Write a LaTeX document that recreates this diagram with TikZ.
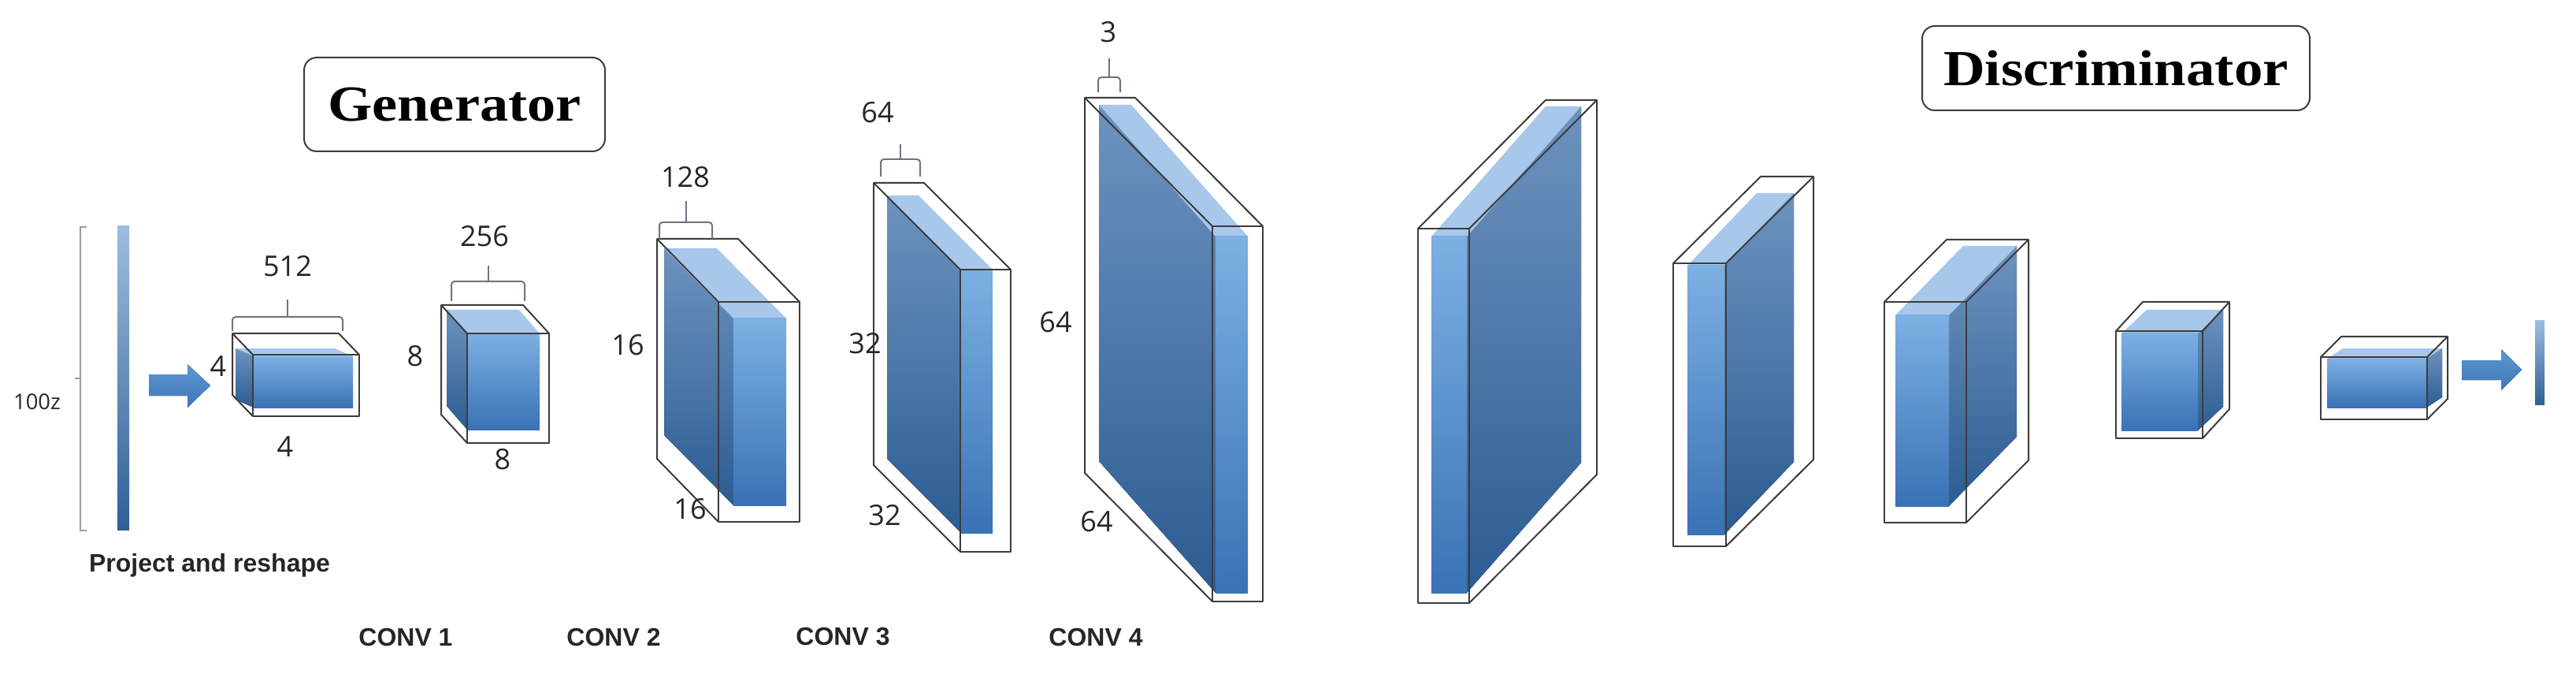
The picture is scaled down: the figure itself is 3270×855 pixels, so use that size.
\documentclass[tikz,border=0pt]{standalone}
\usepackage{fontspec}
\setmainfont{Liberation Sans}
\newfontfamily\titlefont{Liberation Serif}
\newfontfamily\numfont{Open Sans}
\definecolor{framecol}{HTML}{3C3C3C}
\definecolor{brkcol}{HTML}{6E7582}
\definecolor{txtcol}{HTML}{262626}
\definecolor{sideT}{HTML}{6D93BF}
\definecolor{sideB}{HTML}{2C5C92}
\definecolor{frontT}{HTML}{7DB0E3}
\definecolor{frontB}{HTML}{3972B5}
\definecolor{topcol}{HTML}{A7C7EB}
\definecolor{arrT}{HTML}{5E96D3}
\definecolor{arrB}{HTML}{3E77B8}
\definecolor{barT}{HTML}{9DBDE0}
\definecolor{barB}{HTML}{2F5F96}
\tikzset{
  frame/.style={draw=framecol, line width=1pt, line join=round},
  brk/.style={draw=brkcol, line width=1pt, rounded corners=2pt},
  sidefill/.style={top color=sideT, bottom color=sideB},
  frontfill/.style={top color=frontT, bottom color=frontB},
  topfill/.style={fill=topcol},
  num/.style={font=\numfont\fontsize{18pt}{20pt}\selectfont, text=txtcol, inner sep=0pt},
  convlbl/.style={font=\bfseries\fontsize{16pt}{18pt}\selectfont, text=txtcol, inner sep=0pt},
  titlebox/.style={draw=framecol, line width=1pt, rounded corners=8pt, inner sep=0pt,
    font=\titlefont\bfseries\fontsize{32pt}{34pt}\selectfont},
  blockarrow/.style={top color=arrT, bottom color=arrB},
}
% generator cube: side face on the left
\newcommand\gcube[6]{%
  \fill[sidefill] (#1,#2) -- ({#1+(#5)},{#2+(#6)}) -- ({#1+(#5)},{#4+(#6)}) -- (#1,#4) -- cycle;
  \fill[topfill] (#1,#2) -- ({#1+(#5)},{#2+(#6)}) -- ({#3+(#5)},{#2+(#6)}) -- (#3,#2) -- cycle;
  \fill[frontfill] (#1,#2) rectangle (#3,#4);
}
% discriminator cube: side face on the right
\newcommand\dcube[6]{%
  \fill[sidefill] (#3,#2) -- ({#3+(#5)},{#2+(#6)}) -- ({#3+(#5)},{#4+(#6)}) -- (#3,#4) -- cycle;
  \fill[topfill] (#1,#2) -- ({#1+(#5)},{#2+(#6)}) -- ({#3+(#5)},{#2+(#6)}) -- (#3,#2) -- cycle;
  \fill[frontfill] (#1,#2) rectangle (#3,#4);
}
\newcommand\gframe[6]{%
  \draw[frame] (#1,#2) rectangle (#3,#4);
  \draw[frame] (#1,#4) -- ({#1+(#5)},{#4+(#6)}) -- ({#1+(#5)},{#2+(#6)}) -- ({#3+(#5)},{#2+(#6)}) -- (#3,#2);
  \draw[frame] (#1,#2) -- ({#1+(#5)},{#2+(#6)});
}
\newcommand\dframe[6]{%
  \draw[frame] (#1,#2) rectangle (#3,#4);
  \draw[frame] (#3,#4) -- ({#3+(#5)},{#4+(#6)}) -- ({#3+(#5)},{#2+(#6)}) -- ({#1+(#5)},{#2+(#6)}) -- (#1,#2);
  \draw[frame] (#3,#2) -- ({#3+(#5)},{#2+(#6)});
}
\newcommand\chbrack[5]{%
  \draw[brk] (#1,#4) -- (#1,#3) -- (#2,#3) -- (#2,#4);
  \draw[brk] ({(#1+#2)/2},#3) -- ({(#1+#2)/2},#5);
}
\begin{document}
\begin{tikzpicture}[x=0.5pt,y=-0.5pt]
\useasboundingbox (0,0) rectangle (3270,855);
\fill[white] (0,0) rectangle (3270,855);

% titles
\node[titlebox, minimum width=191pt, minimum height=59.5pt] (gen) at (577,132.5) {\scalebox{1.13}[1]{Generator}};
\node[titlebox, minimum width=246pt, minimum height=53.5pt] (dis) at (2686,86.5) {\scalebox{1.14}[1]{Discriminator}};

% latent vector
\draw[draw=brkcol!70, line width=1pt] (110,288) -- (102,288) -- (102,673) -- (110,673);
\draw[draw=brkcol!70, line width=1pt] (102,480) -- (95,480);
\node[font=\numfont\fontsize{13.7pt}{15pt}\selectfont, text=txtcol, inner sep=0pt] (z) at (47,510) {100z};
\fill[top color=barT, bottom color=barB] (149,287) rectangle (164,672);
\node[font=\bfseries\fontsize{16pt}{18pt}\selectfont, text=txtcol, inner sep=0pt] (proj) at (266,717) {Project and reshape};

% block arrow into the generator
\fill[blockarrow] (189,475) -- (238,475) -- (238,462) -- (267,489) -- (238,517) -- (238,502) -- (189,502) -- cycle;

% generator blocks
\gcube{322}{452}{448}{517}{-23}{-10}
\gframe{321}{450}{456}{528}{-26}{-27}
\chbrack{295}{435}{402}{420}{380}
\node[num] (c512) at (365,338) {512};
\node[num] (a4) at (277,465) {4};
\node[num] (b4) at (362,567) {4};

\gcube{593}{423}{685}{545}{-26}{-30}
\gframe{593}{423}{697}{562}{-33}{-36}
\chbrack{573}{666}{357}{382}{337}
\node[num] (c256) at (615,300) {256};
\node[num] (a8) at (527,452) {8};
\node[num] (b8) at (638,583) {8};

\gcube{931}{404}{998}{641}{-88}{-89}
\gframe{912}{383}{1015}{662}{-78}{-80}
\chbrack{837}{904}{282}{303}{255}
\node[num] (c128) at (870,225) {128};
\node[num] (a16) at (797,438) {16};
\node[num] (b16) at (876,646) {16};

\gcube{1220}{342}{1260}{676}{-94}{-94}
\gframe{1219}{342}{1283}{700}{-110}{-110}
\chbrack{1118}{1168}{202}{224}{183}
\node[num] (c64) at (1114,143) {64};
\node[num] (a32) at (1098,436) {32};
\node[num] (b32) at (1123,654) {32};

\gcube{1543}{300}{1584}{752}{-148}{-167}
\gframe{1539}{287}{1603}{763}{-162}{-163}
\chbrack{1394}{1422}{98}{117}{74}
\node[num] (c3) at (1407,41) {3};
\node[num] (a64) at (1340,409) {64};
\node[num] (b64) at (1392,662) {64};

% conv labels
\node[convlbl] (conv1) at (515,808) {CONV 1};
\node[convlbl] (conv2) at (779,808) {CONV 2};
\node[convlbl] (conv3) at (1070,808) {CONV 3};
\node[convlbl] (conv4) at (1391,808) {CONV 4};

% discriminator blocks
\dcube{1817}{300}{1862}{752}{145}{-165}
\dframe{1800}{290}{1865}{765}{162}{-163}

\dcube{2142}{337}{2189}{678}{88}{-92}
\dframe{2124}{334}{2191}{693}{111}{-110}

\dcube{2406}{400}{2474}{642}{86}{-88}
\dframe{2392}{383}{2496}{663}{79}{-79}

\dcube{2693}{423}{2790}{546}{32}{-30}
\dframe{2686}{420}{2796}{556}{34}{-37}

\dcube{2954}{455}{3080}{517}{20}{-13}
\dframe{2946}{453}{3081}{532}{26}{-26}

% output arrow and value
\fill[blockarrow] (3125,457) -- (3175,457) -- (3175,443) -- (3201,469) -- (3175,495) -- (3175,482) -- (3125,482) -- cycle;
\fill[top color=barT, bottom color=barB] (3218,407) rectangle (3230,513);
\end{tikzpicture}
\end{document}
